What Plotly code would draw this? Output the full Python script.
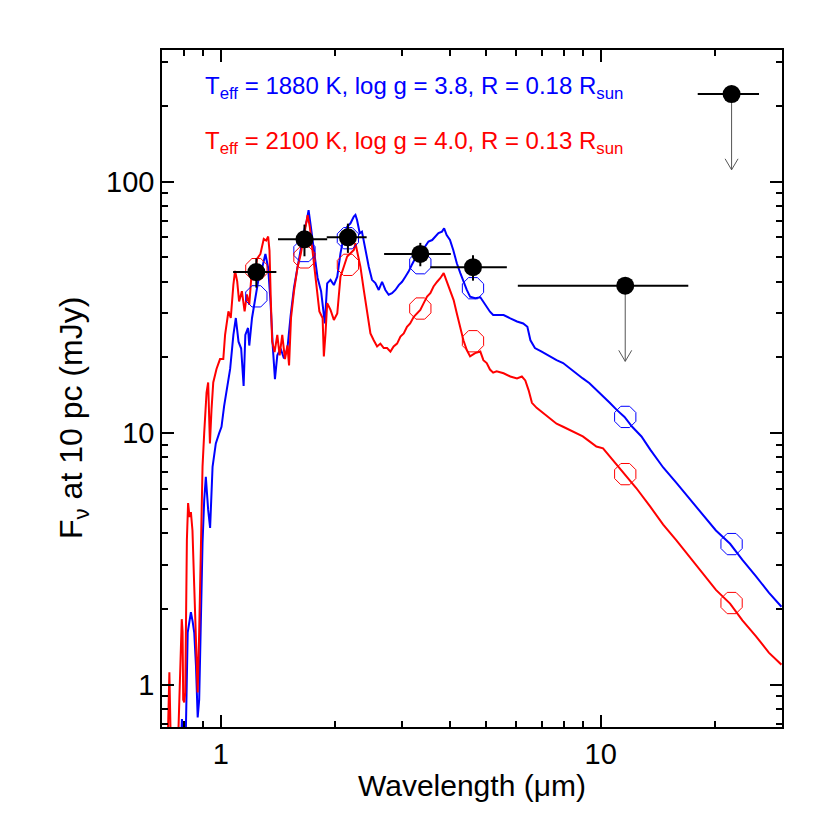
import numpy as np
import plotly.graph_objects as go

# ---------------- data ----------------
red_wl = [0.725, 0.732, 0.738, 0.772, 0.789, 0.793, 0.796, 0.801, 0.806, 0.814, 0.820, 0.827, 0.834,
          0.842, 0.851, 0.860, 0.869, 0.877, 0.886, 0.895, 0.904, 0.913, 0.917, 0.926, 0.936, 0.945,
          0.955, 0.974, 0.995, 1.015, 1.026, 1.047, 1.062, 1.079, 1.090, 1.104, 1.117, 1.136, 1.155,
          1.171, 1.188, 1.208, 1.228, 1.245, 1.271, 1.297, 1.316, 1.332, 1.343, 1.354, 1.365, 1.385,
          1.408, 1.428, 1.451, 1.475, 1.497, 1.512, 1.530, 1.558, 1.591, 1.623, 1.657, 1.692, 1.715,
          1.744, 1.780, 1.817, 1.853, 1.867, 1.886, 1.905, 1.944, 1.984, 2.025, 2.065, 2.107, 2.150,
          2.194, 2.239, 2.261, 2.293, 2.330, 2.378, 2.427, 2.476, 2.526, 2.578, 2.630, 2.684, 2.739,
          2.795, 2.850, 2.910, 2.970, 3.03, 3.09, 3.15, 3.22, 3.28, 3.35, 3.42, 3.49, 3.56, 3.63, 3.71,
          3.78, 3.86, 3.94, 4.02, 4.10, 4.18, 4.27, 4.35, 4.44, 4.53, 4.67, 4.82, 4.91, 5.01, 5.11,
          5.21, 5.32, 5.55, 5.78, 6.02, 6.20, 6.33, 6.46, 6.59, 6.78, 7.06, 7.35, 7.65, 7.96, 8.28,
          8.62, 8.97, 9.34, 9.74, 10.14, 10.78, 11.55, 12.4, 13.5, 14.6, 15.8, 17.1, 18.6, 20.1, 21.9,
          23.6, 25.6, 27.7, 29.9]
red_flux = [0.6, 1.12, 0.6, 0.6, 1.82, 1.62, 0.87, 0.85, 0.93, 3.77, 5.27, 4.64, 4.85,
            4.1, 2.46, 1.5, 0.93, 1.62, 4.0, 7.36, 10.0, 13.6, 14.5, 15.9, 9.1, 12.4,
            15.9, 18.0, 19.7, 19.7, 24.6, 30.5, 28.7, 39.0, 44.2, 40.2, 33.4, 36.7, 30.5,
            35.6, 32.4, 45.5, 41.5, 49.3, 51.6, 59.2, 58.3, 60.5, 53.2, 33.4, 23.1, 21.0,
            24.6, 20.4, 24.6, 19.7, 22.3, 18.6, 28.7, 36.7, 45.5, 51.6, 62.1, 73.6, 66.0,
            53.2, 41.5, 30.5, 28.7, 20.2, 24.9, 32.9, 30.9, 28.2, 29.9, 41.9, 45.9, 50.4,
            51.9, 53.5, 56.9, 51.1, 45.9, 37.1, 30.9, 24.9, 23.4, 22.1, 22.7, 21.8, 21.8,
            21.1, 22.1, 22.7, 24.2, 24.9, 26.5, 27.3, 29.0, 29.9, 30.9, 32.9, 34.9, 36.0, 38.3, 40.0,
            41.3, 43.3, 40.0, 37.1, 33.8, 29.9, 26.5, 23.4, 21.4, 20.2, 20.8, 21.1, 19.5, 19.0, 17.9,
            17.4, 17.6, 17.3, 16.8, 16.5, 16.8, 16.2, 14.8, 13.2, 12.6, 12.0, 11.5, 10.9, 10.6, 10.3,
            10.0, 9.7, 9.27, 8.84, 8.7, 7.8, 6.87, 6.05, 5.1, 4.33, 3.75, 3.22, 2.76, 2.38, 2.10,
            1.80, 1.56, 1.34, 1.20]

blue_wl = [0.786, 0.790, 0.794, 0.808, 0.818, 0.826, 0.834, 0.843, 0.851, 0.860, 0.869, 0.877, 0.886,
           0.895, 0.904, 0.913, 0.926, 0.937, 0.951, 0.970, 0.990, 1.004, 1.020, 1.036, 1.058, 1.079,
           1.095, 1.113, 1.131, 1.148, 1.160, 1.179, 1.188, 1.208, 1.233, 1.258, 1.285, 1.310, 1.332,
           1.351, 1.371, 1.388, 1.408, 1.437, 1.466, 1.497, 1.527, 1.558, 1.591, 1.623, 1.657, 1.684,
           1.702, 1.726, 1.762, 1.797, 1.836, 1.867, 1.878, 1.905, 1.944, 1.984, 2.025, 2.065, 2.107,
           2.150, 2.194, 2.239, 2.261, 2.283, 2.321, 2.352, 2.401, 2.451, 2.500, 2.551, 2.604, 2.657,
           2.711, 2.766, 2.822, 2.880, 2.940, 3.00, 3.06, 3.12, 3.18, 3.25, 3.31, 3.38, 3.45, 3.52,
           3.60, 3.67, 3.74, 3.82, 3.87, 3.93, 4.01, 4.09, 4.18, 4.27, 4.35, 4.44, 4.53, 4.67, 4.82,
           4.91, 5.01, 5.11, 5.21, 5.32, 5.55, 5.78, 6.02, 6.25, 6.41, 6.53, 6.71, 6.99, 7.35, 7.65,
           7.96, 8.28, 8.62, 8.97, 9.34, 9.74, 10.14, 10.56, 11.0, 11.55, 12.1, 12.8, 13.5, 14.6,
           15.8, 17.1, 18.6, 20.1, 21.9, 23.6, 25.6, 27.7, 29.9]
blue_flux = [0.6, 0.73, 0.6, 0.6, 1.61, 1.76, 1.94, 1.78, 1.61, 1.19, 0.74, 0.87, 2.18,
             3.67, 5.4, 6.7, 4.95, 4.2, 7.35, 9.1, 10.0, 10.6, 12.8, 15.0, 18.0, 24.6,
             28.7, 23.1, 21.7, 15.4, 24.6, 26.2, 22.3, 28.7, 34.4, 41.5, 45.5, 51.6, 45.5,
             33.4, 21.7, 16.4, 20.4, 21.7, 19.8, 21.7, 29.5, 37.9, 45.5, 54.8, 64.0, 70.3,
             77.0, 66.0, 51.6, 41.5, 36.7, 29.9, 27.3, 39.4, 40.7, 38.8, 41.9, 51.9, 60.5,
             66.2, 68.3, 72.6, 73.7, 70.4, 62.4, 63.3, 53.5, 45.9, 40.7, 39.5, 37.1, 40.0,
             37.1, 35.5, 36.0, 37.1, 38.8, 40.0, 41.9, 43.9, 46.6, 49.6, 50.4, 52.7, 55.2, 57.8,
             58.6, 60.4, 62.4, 63.3, 65.3, 61.3, 58.6, 53.5, 47.4, 43.3, 40.0, 37.1, 34.9, 34.4, 34.7,
             33.3, 31.9, 30.4, 29.5, 29.5, 29.5, 28.6, 27.8, 27.3, 26.5, 23.4, 21.8, 21.1, 20.2, 19.5,
             19.0, 18.1, 17.3, 16.5, 15.8, 14.9, 14.0, 13.2, 12.4, 11.6, 10.6, 9.7, 8.6, 7.3,
             6.35, 5.5, 4.75, 4.1, 3.63, 3.13, 2.70, 2.32, 2.04]

# observed photometry (J, H, K, W1, W2, W3, W4)
phot_wl = [1.24, 1.66, 2.16, 3.35, 4.61, 11.6, 22.1]
phot_flux = [43.7, 59.0, 60.1, 51.6, 45.7, 38.6, 223.0]
phot_wl_lo = [1.077, 1.414, 1.90, 2.69, 3.56, 6.05, 18.0]
phot_wl_hi = [1.40, 1.905, 2.42, 4.03, 5.66, 17.0, 26.1]
phot_err = [5.8, 8.5, 8.0, 5.5, 5.3, 0.0, 0.0]
phot_upper_limit = [False, False, False, False, False, True, True]

# synthetic photometry of the two models
model_blue_flux = [35.0, 53.0, 59.6, 47.4, 37.7, 11.6, 3.62]
model_red_flux = [44.9, 50.0, 46.7, 31.3, 23.2, 6.87, 2.11]

label_blue = "T<sub>eff</sub> = 1880 K, log g = 3.8, R = 0.18 R<sub>sun</sub>"
label_red = "T<sub>eff</sub> = 2100 K, log g = 4.0, R = 0.13 R<sub>sun</sub>"
x_title = "Wavelength (\u03bcm)"
y_title = "F<sub>\u03bd</sub> at 10 pc (mJy)"

x_major = [1, 10]
x_minor = [0.8, 0.9, 2, 3, 4, 5, 6, 7, 8, 9, 20]
y_major = [1, 10, 100]
y_minor = [0.7, 0.8, 0.9, 2, 3, 4, 5, 6, 7, 8, 9, 20, 30, 40, 50, 60, 70, 80, 90, 200, 300]

# ---------------- figure ----------------
FONT = "Liberation Sans, Arial, Helvetica, sans-serif"
BLUE = "#0000ff"
RED = "#ff0000"

fig = go.Figure()
fig.add_trace(go.Scatter(x=blue_wl, y=blue_flux, mode="lines",
                         line=dict(color=BLUE, width=2), hoverinfo="skip"))
fig.add_trace(go.Scatter(x=red_wl, y=red_flux, mode="lines",
                         line=dict(color=RED, width=2), hoverinfo="skip"))
fig.add_trace(go.Scatter(x=phot_wl, y=model_blue_flux, mode="markers",
                         marker=dict(symbol="octagon-open", size=23, color=BLUE,
                                     line=dict(width=1, color=BLUE))))
fig.add_trace(go.Scatter(x=phot_wl, y=model_red_flux, mode="markers",
                         marker=dict(symbol="octagon-open", size=23, color=RED,
                                     line=dict(width=1, color=RED))))

# upper-limit arrows (shaft to half the limit, open V head), built from the data
HEAD_DX = 10 ** (6.5 / 381.0)   # half-width of arrow head (style)
HEAD_DY = 10 ** (11.0 / 251.5)  # depth of arrow head (style)
ax_, ay_ = [], []
for wl, fl, ul in zip(phot_wl, phot_flux, phot_upper_limit):
    if ul:
        tip = fl * 0.5
        ax_ += [wl, wl, None, wl / HEAD_DX, wl, wl * HEAD_DX, None]
        ay_ += [fl, tip, None, tip * HEAD_DY, tip, tip * HEAD_DY, None]
fig.add_trace(go.Scatter(x=ax_, y=ay_, mode="lines",
                         line=dict(color="#555555", width=1), hoverinfo="skip"))

xp = np.array(phot_wl)
fig.add_trace(go.Scatter(
    x=phot_wl, y=phot_flux, mode="markers",
    marker=dict(symbol="circle", size=18, color="black"),
    error_x=dict(type="data", symmetric=False,
                 array=list(np.array(phot_wl_hi) - xp),
                 arrayminus=list(xp - np.array(phot_wl_lo)),
                 thickness=2, width=0, color="black"),
    error_y=dict(type="data", array=phot_err, thickness=2, width=0, color="black"),
))

annotations = [
    dict(xref="paper", yref="paper", x=0.066, y=0.945, xanchor="left", yanchor="middle",
         text=label_blue, showarrow=False, font=dict(color=BLUE, size=24, family=FONT)),
    dict(xref="paper", yref="paper", x=0.066, y=0.864, xanchor="left", yanchor="middle",
         text=label_red, showarrow=False, font=dict(color=RED, size=24, family=FONT)),
    dict(xref="paper", yref="paper", x=0.5, y=-0.0857, xanchor="center", yanchor="middle",
         text=x_title, showarrow=False, font=dict(color="black", size=30, family=FONT)),
    dict(xref="paper", yref="paper", x=-0.1435, y=0.4564, xanchor="center", yanchor="middle",
         textangle=-90, text=y_title, showarrow=False,
         font=dict(color="black", size=32, family=FONT)),
]

axis_common = dict(type="log", showline=True, linecolor="black", linewidth=1.5,
                   mirror="ticks", ticks="inside", ticklen=12, tickwidth=1.5,
                   tickcolor="black", showgrid=False, zeroline=False, automargin=False,
                   tickfont=dict(size=29, color="black", family=FONT))

# page body has an 8px margin: figure is 814x814 so that the plot area lands
# at x 162..782, y 50..727 of the 830x830 window
fig.update_layout(
    width=814, height=814,
    margin=dict(l=154, r=40, t=42, b=95),
    paper_bgcolor="white", plot_bgcolor="white",
    showlegend=False,
    font=dict(family=FONT, color="black"),
    annotations=annotations,
    xaxis=dict(**axis_common, range=[np.log10(0.7), np.log10(30)],
               tickmode="array", tickvals=x_major, ticktext=[str(v) for v in x_major],
               minor=dict(tickmode="array", tickvals=x_minor, ticklen=6, tickwidth=1.5,
                          tickcolor="black", ticks="inside", showgrid=False)),
    yaxis=dict(**axis_common, range=[np.log10(0.678), np.log10(334)],
               tickmode="array", tickvals=y_major, ticktext=[str(v) for v in y_major],
               minor=dict(tickmode="array", tickvals=y_minor, ticklen=6, tickwidth=1.5,
                          tickcolor="black", ticks="inside", showgrid=False)),
)

fig.write_html("out.html")
